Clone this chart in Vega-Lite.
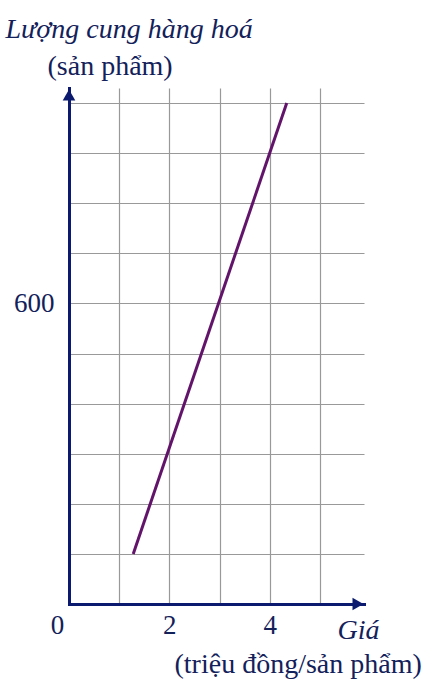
{
  "$schema": "https://vega.github.io/schema/vega-lite/v6.json",
  "width": 295,
  "height": 516,
  "autosize": "none",
  "padding": {"left": 69, "top": 88, "right": 75, "bottom": 85},
  "background": "white",
  "config": {
    "view": {"stroke": null},
    "axis": {"labelFont": "Liberation Serif", "titleFont": "Liberation Serif", "titleFontWeight": "normal"}
  },
  "resolve": {"axis": {"x": "independent", "y": "independent"}},
  "layer": [
    {
      "data": {"values": [{"price": 1.28, "quantity": 100}, {"price": 4.34, "quantity": 1000}]},
      "mark": {"type": "line", "color": "#62136a", "strokeWidth": 3},
      "encoding": {
        "x": {
          "field": "price", "type": "quantitative",
          "scale": {"domain": [0, 5.88], "nice": false, "zero": true},
          "axis": {
            "values": [0, 1, 2, 3, 4, 5],
            "labelExpr": "datum.value % 2 == 0 ? datum.label : ''",
            "grid": true, "gridColor": "#999999", "gridWidth": 1.2,
            "gridOpacity": {"condition": {"test": "datum.value == 0", "value": 0}, "value": 1},
            "ticks": false, "tickSize": 0,
            "domainColor": "#0b1a6e", "domainWidth": 3, "domainCap": "square",
            "labelFontSize": 27, "labelColor": "#13215a",
            "labelBaseline": "alphabetic", "labelPadding": 29,
            "labelOffset": {"condition": {"test": "datum.value == 0", "value": -12}, "value": 0},
            "labelFlush": false, "labelOverlap": false,
            "title": "(triệu đồng/sản phẩm)",
            "titleFontSize": 28, "titleColor": "#13215a",
            "titleAlign": "left", "titleBaseline": "alphabetic",
            "titleX": 105, "titleY": 68
          }
        },
        "y": {
          "field": "quantity", "type": "quantitative",
          "scale": {"domain": [0, 1030], "nice": false, "zero": true},
          "axis": {
            "values": [100, 200, 300, 400, 500, 600, 700, 800, 900, 1000],
            "labelExpr": "datum.value == 600 ? '600' : ''",
            "grid": true, "gridColor": "#999999", "gridWidth": 1.2,
            "ticks": false, "tickSize": 0,
            "domainColor": "#0b1a6e", "domainWidth": 3, "domainCap": "square",
            "labelFontSize": 27, "labelColor": "#13215a",
            "labelAlign": "right", "labelBaseline": "middle", "labelPadding": 15,
            "labelFlush": false, "labelOverlap": false,
            "title": "(sản phẩm)",
            "titleFontSize": 28, "titleColor": "#13215a",
            "titleAngle": 0, "titleAlign": "left", "titleBaseline": "alphabetic",
            "titleX": -22, "titleY": -14
          }
        }
      }
    },
    {
      "data": {"values": [{}]},
      "mark": {"type": "point", "shape": "triangle-up", "filled": true, "opacity": 1, "color": "#0b1a6e", "size": 160},
      "encoding": {
        "x": {
          "datum": 0, "type": "quantitative",
          "scale": {"domain": [0, 5.88], "nice": false, "zero": true},
          "axis": {
            "orient": "bottom", "labels": false, "ticks": false, "domain": false, "grid": false,
            "title": "Giá", "titleFontSize": 28, "titleFontStyle": "italic", "titleColor": "#13215a",
            "titleAlign": "left", "titleBaseline": "alphabetic", "titleX": 268, "titleY": 34
          }
        },
        "y": {
          "datum": 1016, "type": "quantitative",
          "scale": {"domain": [0, 1030], "nice": false, "zero": true},
          "axis": {
            "orient": "left", "labels": false, "ticks": false, "domain": false, "grid": false,
            "title": "Lượng cung hàng hoá", "titleFontSize": 28, "titleFontStyle": "italic", "titleColor": "#13215a",
            "titleAngle": 0, "titleAlign": "left", "titleBaseline": "alphabetic", "titleX": -64, "titleY": -51
          }
        }
      }
    },
    {
      "data": {"values": [{}]},
      "mark": {"type": "point", "shape": "triangle-right", "filled": true, "opacity": 1, "color": "#0b1a6e", "size": 160},
      "encoding": {
        "x": {"datum": 5.76, "type": "quantitative", "scale": {"domain": [0, 5.88], "nice": false, "zero": true}, "axis": null},
        "y": {"datum": 0, "type": "quantitative", "scale": {"domain": [0, 1030], "nice": false, "zero": true}, "axis": null}
      }
    }
  ]
}
